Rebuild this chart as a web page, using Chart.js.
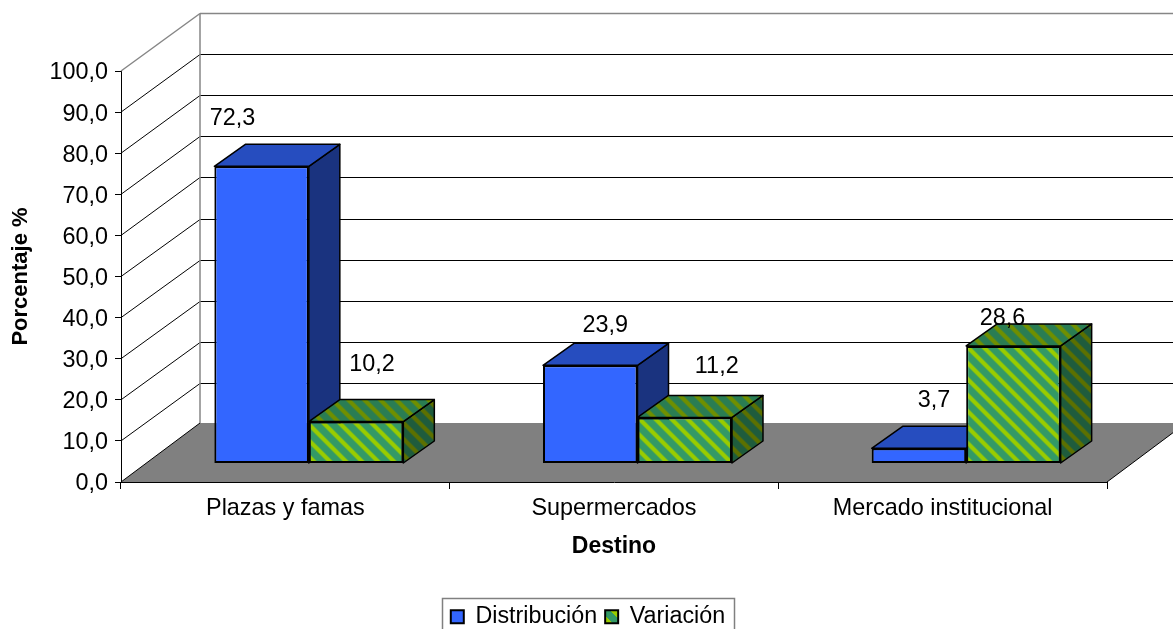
<!DOCTYPE html>
<html>
<head>
<meta charset="utf-8">
<title>Destino</title>
<style>
  html, body { margin: 0; padding: 0; background: #fff; overflow: hidden; }
  canvas { display: block; }
</style>
<script src="https://cdn.jsdelivr.net/npm/chart.js@4"></script>
</head>
<body>
<canvas id="bars" width="1173" height="629"></canvas>
<script>
// data
const categories = ['Plazas y famas', 'Supermercados', 'Mercado institucional'];
const distribucion = [72.3, 23.9, 3.7];
const variacion = [10.2, 11.2, 28.6];

// fake 3d setup
const wallShift = { x: 79, y: -57.5 };
const barShift = { x: 23.5, y: -18.5 };
const barDepth = { x: 31, y: -22 };
const fontName = '"Liberation Sans", Arial, sans-serif';
const fontSize = 23.4;

// where each value label sits relative to its bar top, one list per series
const labelOffsets = [
    [[-29, -48], [15, -40], [15, -48]],
    [[16, -57], [32, -51], [-11, -27]]
];

function stripes(green, yellow) {
    const tile = document.createElement('canvas');
    tile.width = tile.height = 16;
    const c = tile.getContext('2d');
    for (let y = 0; y < 16; y++) {
        for (let x = 0; x < 16; x++) {
            c.fillStyle = (x - y + 32) % 16 < 6 ? yellow : green;
            c.fillRect(x, y, 1, 1);
        }
    }
    return c.createPattern(tile, 'repeat');
}

const greenFront = stripes('#339966', '#99cc00');
const greenTop = stripes('#2a7d53', '#6f8f00');
const greenSide = stripes('#1f5c3d', '#5c7000');

function poly(ctx, pts, fill, stroke, width) {
    ctx.beginPath();
    pts.forEach((p, i) => i ? ctx.lineTo(p[0], p[1]) : ctx.moveTo(p[0], p[1]));
    ctx.closePath();
    if (fill) { ctx.fillStyle = fill; ctx.fill(); }
    if (stroke) { ctx.strokeStyle = stroke; ctx.lineWidth = width; ctx.stroke(); }
}

function line(ctx, x1, y1, x2, y2, color, width) {
    ctx.beginPath();
    ctx.moveTo(x1, y1);
    ctx.lineTo(x2, y2);
    ctx.strokeStyle = color;
    ctx.lineWidth = width;
    ctx.stroke();
}

function drawWalls(chart) {
    const ctx = chart.ctx;
    const a = chart.chartArea;
    const y = chart.scales.y;
    const dx = wallShift.x, dy = wallShift.y;
    ctx.save();
    // floor sits a touch higher than the zero line of the back wall
    poly(ctx, [[a.left, a.bottom], [a.left + dx, a.bottom + dy - 1.5], [a.right + dx, a.bottom + dy - 1.5], [a.right, a.bottom]], '#808080');
    line(ctx, a.left, a.bottom, a.left + dx, a.bottom + dy - 1.5, '#000', 1);
    line(ctx, a.right, a.bottom, a.right + dx, a.bottom + dy - 1.5, '#000', 1);
    y.ticks.forEach(t => {
        const py = y.getPixelForValue(t.value);
        if (t.value === 0) return;
        const top = t.value === y.max;
        const color = top ? '#868686' : '#000';
        const w = top ? 1.5 : 1;
        const backY = Math.floor(py + dy) + 0.5;
        line(ctx, a.left, py, a.left + dx, backY, color, w);
        line(ctx, a.left + dx, backY, a.right + dx, backY, color, w);
    });
    line(ctx, a.left + dx, a.top + dy, a.left + dx, a.bottom + dy - 1.5, '#868686', 1.5);
    ctx.restore();
}

// side and top faces first, then the library draws the front of the bar
function drawSeries(chart, index) {
    const ctx = chart.ctx;
    const meta = chart.getDatasetMeta(index);
    const isGreen = index === 1;
    ctx.save();
    ctx.translate(barShift.x, barShift.y);
    ctx.lineJoin = 'round';
    meta.data.forEach(bar => {
        const l = bar.x - bar.width / 2, r = bar.x + bar.width / 2;
        const t = bar.y, b = bar.base;
        const dx = barDepth.x, dy = barDepth.y;
        poly(ctx, [[r, t], [r + dx, t + dy], [r + dx, b + dy], [r, b]], isGreen ? greenSide : '#1a337f', '#000', 1.5);
        poly(ctx, [[l, t], [l + dx, t + dy], [r + dx, t + dy], [r, t]], isGreen ? greenTop : '#264dbf', '#000', 1.5);
    });
    meta.controller.draw();
    ctx.restore();
}

const box3d = {
    id: 'box3d',
    // legend is centred on the whole picture, not on the plot
    afterLayout(chart) {
        chart.legend.right += 69;
    },
    beforeDatasetsDraw(chart) {
        drawWalls(chart);
        // first series has to go under the second one
        chart.data.datasets.forEach((ds, i) => drawSeries(chart, i));
        return false;
    },
    afterDraw(chart) {
        const ctx = chart.ctx;
        ctx.save();
        ctx.font = fontSize + 'px ' + fontName;
        ctx.fillStyle = '#000';
        ctx.textAlign = 'center';
        ctx.textBaseline = 'middle';
        chart.data.datasets.forEach((ds, i) => {
            chart.getDatasetMeta(i).data.forEach((bar, j) => {
                const off = labelOffsets[i][j];
                const text = ds.data[j].toFixed(1).replace('.', ',');
                ctx.fillText(text, bar.x + barShift.x + off[0], bar.y + barShift.y + off[1]);
            });
        });
        // legend frame, runs off the bottom of the picture
        ctx.strokeStyle = '#808080';
        ctx.lineWidth = 1.5;
        ctx.strokeRect(442.5, 598.5, 292, 40);
        ctx.restore();
    }
};

new Chart(document.getElementById('bars'), {
    type: 'bar',
    plugins: [box3d],
    data: {
        labels: categories,
        datasets: [{
            label: 'Distribución',
            data: distribucion,
            backgroundColor: '#3366ff',
            borderColor: '#000',
            borderWidth: 2,
            borderSkipped: false
        }, {
            label: 'Variación',
            data: variacion,
            backgroundColor: greenFront,
            borderColor: '#000',
            borderWidth: 2,
            borderSkipped: false
        }]
    },
    options: {
        responsive: false,
        animation: false,
        categoryPercentage: 0.575,
        barPercentage: 1,
        layout: { padding: { left: 0, top: 71, right: 66, bottom: -9.3 } },
        scales: {
            x: {
                grid: { offset: true, drawOnChartArea: false, color: '#000', tickLength: 7 },
                border: { color: '#000', width: 1 },
                ticks: {
                    color: '#000',
                    font: { family: fontName, size: fontSize },
                    maxRotation: 0,
                    autoSkip: false,
                    padding: 6
                },
                title: {
                    display: true,
                    text: 'Destino',
                    color: '#000',
                    font: { family: fontName, size: 23, weight: 'bold' },
                    padding: { top: 0, bottom: 37 }
                },
                afterFit(scale) { scale.height = 115; }
            },
            y: {
                min: 0,
                max: 100,
                grid: { drawOnChartArea: false, color: '#000', tickLength: 6 },
                border: { color: '#000', width: 1 },
                ticks: {
                    stepSize: 10,
                    color: '#000',
                    font: { family: fontName, size: fontSize },
                    padding: 7,
                    labelOffset: 2,
                    callback: v => v.toFixed(1).replace('.', ',')
                },
                title: {
                    display: true,
                    text: 'Porcentaje %',
                    color: '#000',
                    font: { family: fontName, size: 22, weight: 'bold' },
                    padding: { top: 8, bottom: 0 }
                },
                afterFit(scale) { scale.width = 121; }
            }
        },
        plugins: {
            tooltip: { enabled: false },
            legend: {
                position: 'bottom',
                labels: {
                    color: '#000',
                    font: { family: fontName, size: 23.3 },
                    boxWidth: 13,
                    boxHeight: 13,
                    padding: 8
                }
            }
        }
    }
});
</script>
</body>
</html>
